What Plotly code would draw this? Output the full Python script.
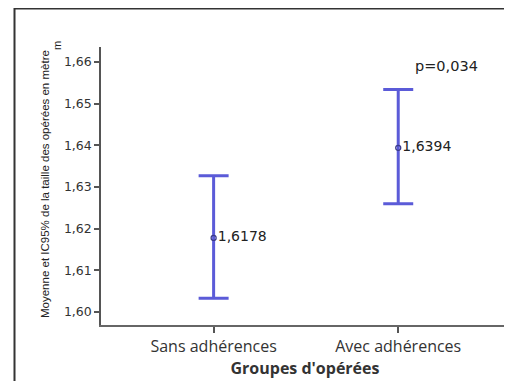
import plotly.graph_objects as go

categories = ["Sans adhérences", "Avec adhérences"]
means = [1.6178, 1.6394]
upper = [1.6327, 1.6534]
lower = [1.6033, 1.6260]
mean_labels = ["1,6178", "1,6394"]
y_ticks = [1.60, 1.61, 1.62, 1.63, 1.64, 1.65, 1.66]
y_ticktext = ["1,60", "1,61", "1,62", "1,63", "1,64", "1,65", "1,66"]
p_text = "p=0,034"

err_plus = [u - m for u, m in zip(upper, means)]
err_minus = [m - l for m, l in zip(means, lower)]

# page has an 8px body margin: figure drawn from (8,8)
OFF = 8
W, H = 512 - OFF, 381 - OFF
L, T = 101 - OFF, 47 - OFF
R_EDGE, B_EDGE = 509 - OFF, 325 - OFF
plot_w = R_EDGE - L
plot_h = B_EDGE - T


def px_x(px):
    return (px - OFF - L) / plot_w


def px_y(py):
    return 1 - (py - OFF - T) / plot_h


fig = go.Figure()
fig.add_trace(go.Scatter(
    x=categories, y=means,
    mode="markers+text",
    text=mean_labels,
    textposition="middle right",
    textfont=dict(family="DejaVu Sans", size=14, color="#222222"),
    marker=dict(symbol="circle-open", size=5, color="#3a3a8a", line=dict(width=1.3)),
    error_y=dict(type="data", symmetric=False, array=err_plus, arrayminus=err_minus,
                 color="#5b5bd8", thickness=3, width=15),
    showlegend=False,
    cliponaxis=False,
))

fig.update_layout(
    width=W, height=H,
    margin=dict(l=L, r=W - R_EDGE, t=T, b=H - B_EDGE, autoexpand=False),
    paper_bgcolor="white", plot_bgcolor="white",
    separators=", ",
    xaxis=dict(
        type="category", range=[-0.61, 1.6],
        showline=True, linecolor="#666666", linewidth=1.5,
        ticks="outside", ticklen=6, tickcolor="#555555", tickwidth=1.5,
        showgrid=False, zeroline=False,
        tickfont=dict(family="Open Sans", size=16, color="#333333"),
        title=dict(text="<b>Groupes d'opérées</b>", standoff=2,
                   font=dict(family="Open Sans", size=16, color="#333333")),
    ),
    yaxis=dict(
        range=[1.5969, 1.6636],
        tickvals=y_ticks, ticktext=y_ticktext,
        showline=True, linecolor="#555555", linewidth=1.5,
        ticks="outside", ticklen=5, tickcolor="#555555", tickwidth=1.5,
        showgrid=False, zeroline=False,
        tickfont=dict(family="DejaVu Sans", size=12.5, color="#333333"),
    ),
)

fig.add_annotation(text="Moyenne et IC95% de la taille des opérées en mètre",
                   x=px_x(45), y=px_y(184), xref="paper", yref="paper", showarrow=False,
                   xanchor="center", yanchor="middle", textangle=-90,
                   font=dict(family="Liberation Sans, Arial", size=11.5, color="#222222"))
fig.add_annotation(text="m", x=px_x(57), y=px_y(46), xref="paper", yref="paper",
                   xanchor="center", yanchor="middle",
                   showarrow=False, textangle=-90,
                   font=dict(family="Liberation Sans, Arial", size=11, color="#222222"))
fig.add_annotation(text=p_text, x=px_x(446), y=px_y(66), xref="paper", yref="paper",
                   xanchor="center", yanchor="middle", showarrow=False,
                   font=dict(family="DejaVu Sans", size=14.5, color="#222222"))

# outer frame (top and left edges)
fig.add_shape(type="line", xref="paper", yref="paper",
              x0=px_x(14), x1=px_x(520), y0=px_y(8.5), y1=px_y(8.5),
              line=dict(color="#333333", width=2))
fig.add_shape(type="line", xref="paper", yref="paper",
              x0=px_x(14.5), x1=px_x(14.5), y0=px_y(8), y1=px_y(390),
              line=dict(color="#333333", width=2))
fig.add_shape(type="line", xref="paper", yref="paper",
              x0=px_x(509.5), x1=px_x(509.5), y0=px_y(9), y1=px_y(390),
              line=dict(color="#e0e0e0", width=1))

fig.write_html("out.html")
